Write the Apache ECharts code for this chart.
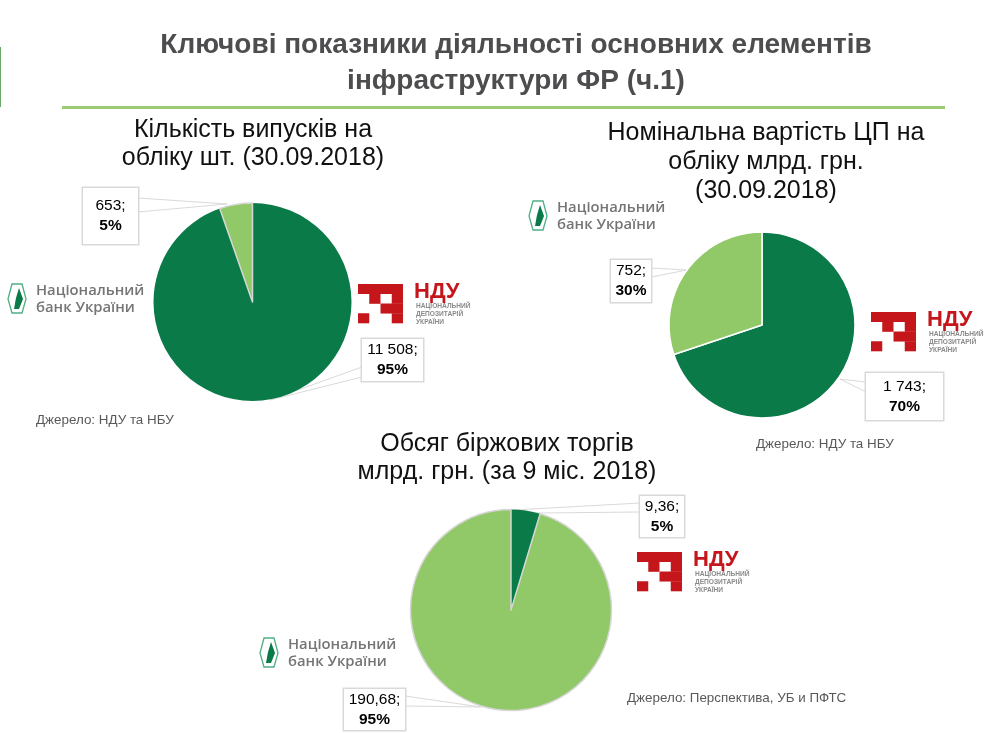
<!DOCTYPE html>
<html lang="uk">
  <head>
    <meta charset="UTF-8" />
    <title>Ключові показники</title>
    <script src="https://cdn.jsdelivr.net/npm/echarts@6/dist/echarts.min.js"></script>
    <style>
      html, body { margin: 0; padding: 0; background: #fff; }
    </style>
  </head>
  <body>
    <div id="main" style="width: 987px; height: 733px"></div>
    <script type="text/javascript">
      const DARK = "#0a7a48";
      const LIGHT = "#92c968";
      const RIM = "#d6d6d6";
      const FONT = "Liberation Sans, Arial, sans-serif";

      const mainTitle = "Ключові показники діяльності основних елементів\nінфраструктури ФР (ч.1)";
      const pieTitles = [
        "Кількість випусків на\nобліку шт. (30.09.2018)",
        "Номінальна вартість ЦП на\nобліку млрд. грн.\n(30.09.2018)",
        "Обсяг біржових торгів\nмлрд. грн. (за 9 міс. 2018)",
      ];
      const sources = ["Джерело: НДУ та НБУ", "Джерело: НДУ та НБУ", "Джерело: Перспектива, УБ и ПФТС"];

      // values in chart order, clockwise from 12 o'clock
      const issuesValues = [11508, 653];
      const issuesText = ["11 508;", "653;"];
      const issuesPct = ["95%", "5%"];
      const nominalValues = [1743, 752];
      const nominalText = ["1 743;", "752;"];
      const nominalPct = ["70%", "30%"];
      const tradingValues = [9.36, 190.68];
      const tradingText = ["9,36;", "190,68;"];
      const tradingPct = ["5%", "95%"];

      let myChart = echarts.init(document.getElementById("main"));

      // box = [centre x, centre y, width, height] of the label box
      function pieData(values, colors, rims, texts, pcts, boxes) {
        return values.map((v, i) => ({
          value: v,
          itemStyle: { color: colors[i], borderColor: rims[i], borderWidth: rims[i] ? 1.5 : 0 },
          label: {
            formatter: "{a|" + texts[i] + "}\n{b|" + pcts[i] + "}",
            width: boxes[i][2],
            padding: [(boxes[i][3] - 40) / 2, 0],
          },
        }));
      }

      function pieSeries(center, radius, data, boxes) {
        return {
          type: "pie",
          center: center,
          radius: radius,
          startAngle: 90,
          silent: true,
          animation: false,
          data: data,
          labelLine: { show: false },
          labelLayout: (params) => ({
            x: boxes[params.dataIndex][0],
            y: boxes[params.dataIndex][1],
            align: "center",
            verticalAlign: "middle",
          }),
          label: {
            show: true,
            position: "inside",
            align: "center",
            verticalAlign: "middle",
            backgroundColor: "#fff",
            borderColor: "#d9d9d9",
            borderWidth: 1.5,
            rich: {
              a: { fontFamily: FONT, fontSize: 15.5, color: "#000", lineHeight: 20, align: "center" },
              b: { fontFamily: FONT, fontSize: 15.5, fontWeight: "bold", color: "#000", lineHeight: 20, align: "center" },
            },
          },
        };
      }

      function centerText(text, x, y, size, color, weight, lh) {
        return {
          type: "text", x: x, y: y, silent: true,
          style: { text: text, fontFamily: FONT, fontSize: size, fill: color, fontWeight: weight || "normal",
            align: "center", verticalAlign: "top", lineHeight: lh || size * 1.2 },
        };
      }

      // thin wedge from a label box to the rim of the pie
      function callout(points) {
        return {
          type: "polygon", silent: true, z: 1,
          shape: { points: points },
          style: { fill: "#fff", stroke: "#d9d9d9", lineWidth: 1 },
        };
      }

      function nduLogo(x, y) {
        const red = "#c5161c";
        const w = 11.25, h = 9.75;
        const cells = [[0, 0, 4], [1, 1, 1], [3, 1, 1], [2, 2, 2], [0, 3, 1], [3, 3, 1]];
        const children = cells.map((c) => ({
          type: "rect", shape: { x: c[0] * w, y: c[1] * h, width: c[2] * w, height: h + 0.3 }, style: { fill: red },
        }));
        children.push({ type: "text", x: 56, y: -3, style: { text: "НДУ", fontFamily: FONT, fontSize: 22, fontWeight: "bold", fill: red } });
        children.push({ type: "text", x: 58, y: 18, style: { text: "НАЦІОНАЛЬНИЙ\nДЕПОЗИТАРІЙ\nУКРАЇНИ", fontFamily: FONT, fontSize: 6.6, fontWeight: "bold", fill: "#8a8a8a", lineHeight: 8 } });
        return { type: "group", x: x, y: y, silent: true, children: children };
      }

      function nbuLogo(x, y) {
        return {
          type: "group", x: x, y: y, silent: true,
          children: [
            { type: "polygon", shape: { points: [[4, 0], [14, 0], [18, 15], [14, 29], [4, 29], [0, 15]] }, style: { fill: "#fff", stroke: "#4fae84", lineWidth: 1.3 } },
            { type: "polygon", shape: { points: [[11, 4], [15, 15], [11, 25], [6, 25], [8, 14]] }, style: { fill: DARK } },
            { type: "text", x: 28, y: -2, style: { text: "Національний\nбанк України", fontFamily: "Open Sans, sans-serif", fontSize: 14.8, fontWeight: 600, fill: "#757575", lineHeight: 17 } },
          ],
        };
      }

      function sourceText(text, x, y) {
        return { type: "text", x: x, y: y, silent: true, style: { text: text, fontFamily: FONT, fontSize: 13.4, fill: "#595959" } };
      }

      const issuesBoxes = [[392.5, 360, 61, 42], [110.5, 216, 55, 56]];
      const nominalBoxes = [[904.5, 396.5, 77, 47], [631, 281, 40, 42]];
      const tradingBoxes = [[662, 516.5, 44, 41], [374.5, 709.5, 61, 41]];

      let options = {
        animation: false,
        series: [
          pieSeries([252.5, 302], 99, pieData(issuesValues, [DARK, LIGHT], [null, RIM], issuesText, issuesPct, issuesBoxes), issuesBoxes),
          pieSeries([762, 325], 93, pieData(nominalValues, [DARK, LIGHT], ["#fff", "#fff"], nominalText, nominalPct, nominalBoxes), nominalBoxes),
          pieSeries([511, 610], 100.5, pieData(tradingValues, [DARK, LIGHT], [null, RIM], tradingText, tradingPct, tradingBoxes), tradingBoxes),
        ],
        graphic: [
          { type: "rect", silent: true, shape: { x: 0, y: 47, width: 1, height: 60 }, style: { fill: "#6aa86a" } },
          centerText(mainTitle, 516, 27, 28, "#4d4d4f", "bold", 36),
          { type: "rect", silent: true, shape: { x: 62, y: 106, width: 883, height: 3 }, style: { fill: "#9ccb74" } },
          centerText(pieTitles[0], 253, 116, 25, "#111", "normal", 28),
          centerText(pieTitles[1], 766, 119, 25, "#111", "normal", 29),
          centerText(pieTitles[2], 507, 430, 25, "#111", "normal", 28),
          callout([[138, 198], [227, 204], [138, 212]]),
          callout([[362, 367], [270, 400], [362, 377]]),
          callout([[651, 268], [687, 270], [651, 277]]),
          callout([[866, 382], [840, 379], [866, 392]]),
          callout([[640, 503], [513, 510], [540, 513], [640, 512]]),
          callout([[405, 696], [481, 707], [405, 706]]),
          nbuLogo(8, 284),
          nbuLogo(529, 201),
          nbuLogo(260, 638),
          nduLogo(358, 284),
          nduLogo(871, 312),
          nduLogo(637, 552),
          sourceText(sources[0], 36, 414),
          sourceText(sources[1], 756, 438),
          sourceText(sources[2], 627, 692),
        ],
      };

      myChart.setOption(options);
    </script>
  </body>
</html>
